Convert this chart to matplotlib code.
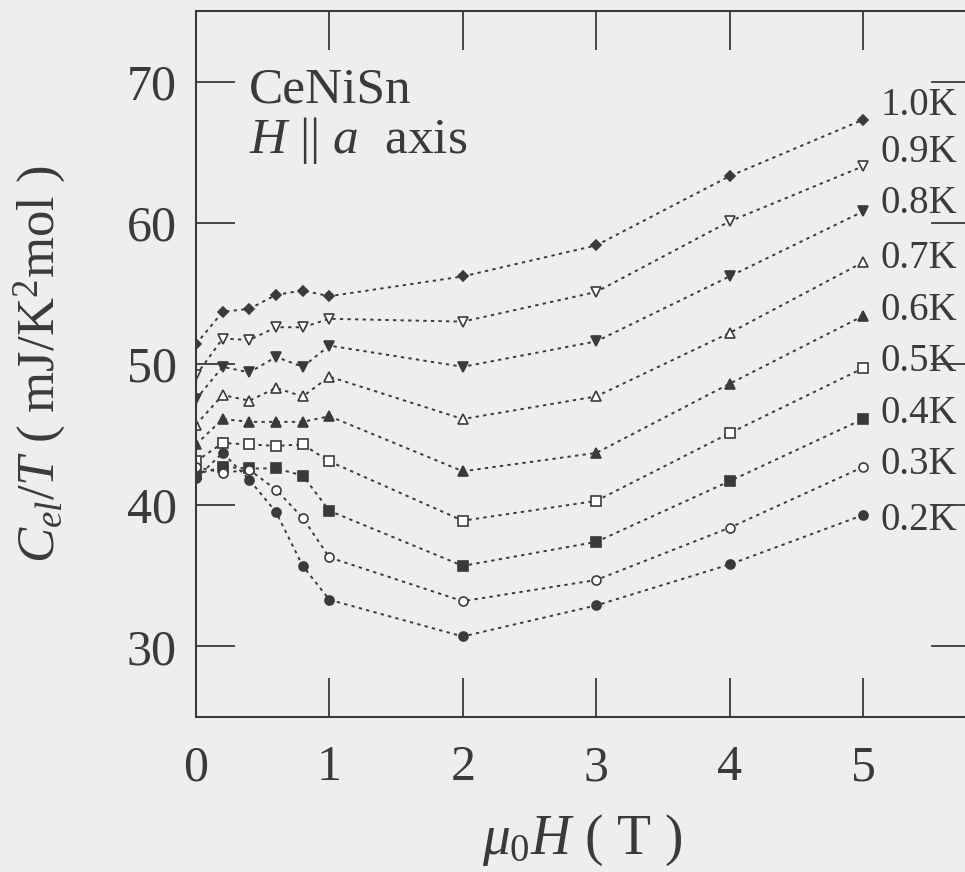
import matplotlib
matplotlib.use("Agg")
import matplotlib.pyplot as plt

# field values (T) and C_el/T (mJ/K^2 mol) at each temperature
field = [0, 0.2, 0.4, 0.6, 0.8, 1.0, 2, 3, 4, 5]

c_10K = [51.4, 53.7, 53.9, 54.9, 55.2, 54.8, 56.2, 58.4, 63.3, 67.3]
c_09K = [49.2, 51.8, 51.7, 52.6, 52.6, 53.2, 53.0, 55.1, 60.1, 64.0]
c_08K = [47.5, 49.8, 49.4, 50.5, 49.8, 51.3, 49.8, 51.6, 56.2, 60.8]
c_07K = [45.7, 47.8, 47.4, 48.3, 47.7, 49.1, 46.1, 47.7, 52.2, 57.2]
c_06K = [44.3, 46.1, 45.9, 45.9, 45.9, 46.3, 42.4, 43.7, 48.6, 53.4]
c_05K = [43.1, 44.4, 44.3, 44.2, 44.3, 43.1, 38.9, 40.3, 45.1, 49.7]
c_04K = [42.2, 42.7, 42.6, 42.6, 42.1, 39.6, 35.7, 37.4, 41.7, 46.1]
c_03K = [42.7, 42.3, 42.5, 41.1, 39.1, 36.3, 33.2, 34.7, 38.4, 42.7]
c_02K = [41.9, 43.7, 41.8, 39.5, 35.7, 33.3, 30.7, 32.9, 35.8, 39.3]

temp_labels = ["1.0K", "0.9K", "0.8K", "0.7K", "0.6K", "0.5K", "0.4K", "0.3K", "0.2K"]
label_y = [68.3, 65.0, 61.4, 57.5, 53.8, 50.2, 46.5, 42.9, 38.9]

x_ticks = [0, 1, 2, 3, 4, 5]
y_ticks = [30, 40, 50, 60, 70]

series = [c_10K, c_09K, c_08K, c_07K, c_06K, c_05K, c_04K, c_03K, c_02K]
markers = ["D", "v", "v", "^", "^", "s", "s", "o", "o"]
filled = [True, False, True, False, True, False, True, False, True]

bg = "#eeeeee"
ink = "#3a3a3a"

plt.rcParams["font.family"] = "Liberation Serif"
plt.rcParams["mathtext.fontset"] = "custom"
plt.rcParams["mathtext.rm"] = "Liberation Serif"
plt.rcParams["mathtext.it"] = "Liberation Serif:italic"

fig = plt.figure(figsize=(9.65, 8.72), dpi=100, facecolor=bg)
ax = fig.add_axes([0.2031, 0.1778, 0.8018, 0.8096], facecolor=bg)

for ys, mk, fill in zip(series, markers, filled):
    ms = 5.5 if mk == "D" else 6.5
    ax.plot(field, ys, color=ink, lw=1.4, linestyle=(0, (1.7, 2.2)),
            marker=mk, markersize=ms, markeredgewidth=1.2,
            markeredgecolor=ink, markerfacecolor=ink if fill else "white")

for lab, yl in zip(temp_labels, label_y):
    ax.text(5.13, yl, lab, fontsize=28, color=ink, ha="left", va="center")

ax.text(0.40, 69.4, "CeNiSn", fontsize=37, color=ink, ha="left", va="center")
ax.text(0.40, 65.8, r"$H$ || $a$  axis", fontsize=37, color=ink,
        ha="left", va="center")

ax.set_xlim(0, 5.8)
ax.set_ylim(25, 75)
ax.set_xticks(x_ticks)
ax.set_yticks(y_ticks)
ax.tick_params(direction="in", length=28, width=1.3, colors=ink,
               labelsize=36, top=True, right=True, pad=14)
ax.tick_params(axis="x", pad=20)
for sp in ax.spines.values():
    sp.set_linewidth(1.5)
    sp.set_color(ink)

ax.set_xlabel(r"$\mu_0H$ ( T )", fontsize=40, color=ink)
ax.xaxis.set_label_coords(0.5, -0.135)
ax.set_ylabel(r"$C_{el}/T$ ( mJ/K$^2$mol )", fontsize=38, color=ink)
ax.yaxis.set_label_coords(-0.165, 0.5)

fig.savefig("out.png", dpi=100, facecolor=bg)
